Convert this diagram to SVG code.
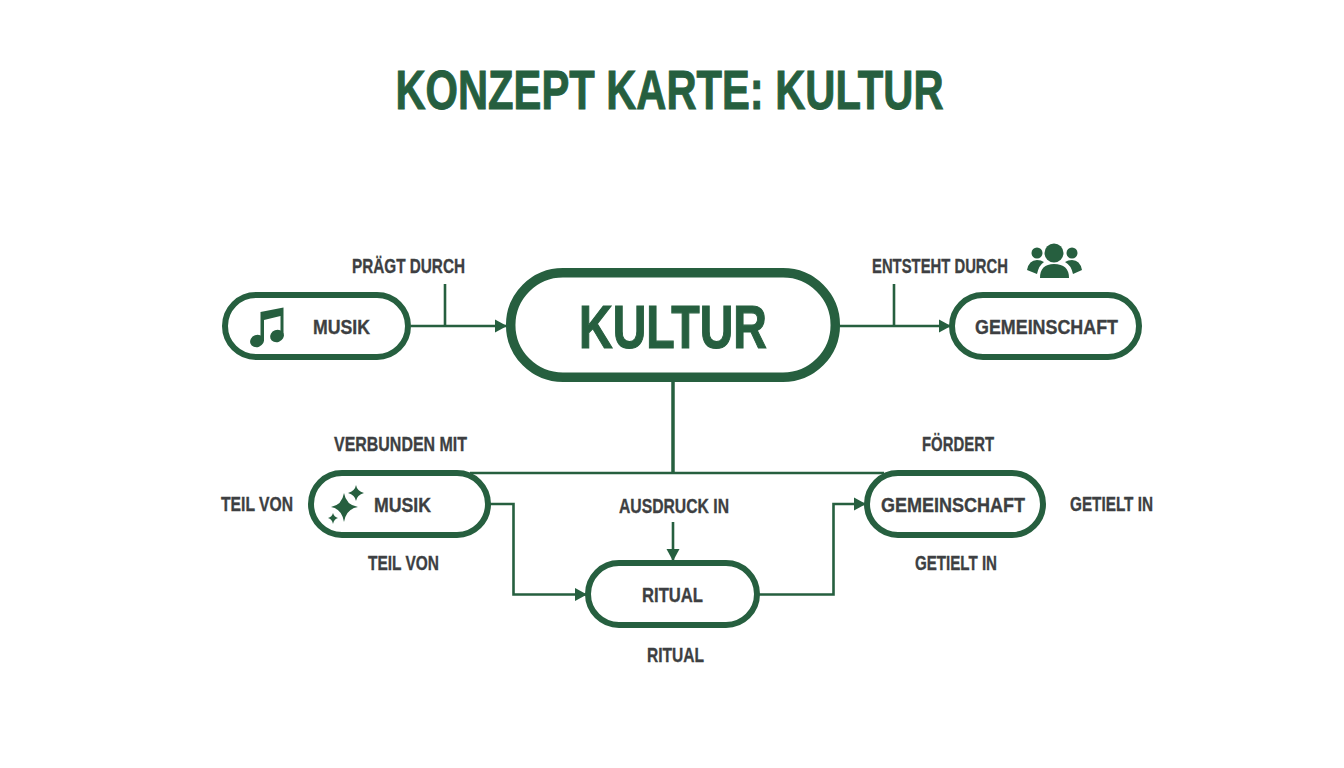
<svg xmlns="http://www.w3.org/2000/svg" width="1344" height="768" viewBox="0 0 1344 768">
<style>
.n{fill:#fff;stroke:#265f3f;stroke-width:6}
.c{fill:none;stroke:#265f3f;stroke-width:2.600}
.i{fill:#265f3f}
text{font-family:"Liberation Sans",Arial,sans-serif;font-weight:700;text-anchor:start}
.l{font-size:21px;fill:#3d3f42;stroke:#3d3f42;stroke-width:.35}
.g{fill:#265f3f;stroke:#265f3f}
</style>
<defs>
<marker id="a" markerUnits="userSpaceOnUse" markerWidth="14" markerHeight="16" refX="12" refY="8" orient="auto"><path d="M0 1.500L12 8L0 14.500Z" fill="#265f3f"/></marker>
</defs>
<rect width="1344" height="768" fill="#fff"/>
<text id="title" class="g" style="stroke-width:1" x="395.500" y="108.500" font-size="55" textLength="548" lengthAdjust="spacingAndGlyphs">KONZEPT KARTE: KULTUR</text>
<g id="connectors">
<path class="c" d="M411 326H507" marker-end="url(#a)"/>
<path class="c" d="M445 284V326"/>
<path class="c" d="M840 326H951" marker-end="url(#a)"/>
<path class="c" d="M894 284V326"/>
<path class="c" style="stroke-width:3.500" d="M673 380V473"/>
<path class="c" d="M470 473H884"/>
<path class="c" d="M490 504H513.500V594.500H587" marker-end="url(#a)"/>
<path class="c" d="M759 594.500H833.500V504H866" marker-end="url(#a)"/>
<path class="c" d="M673 522V561" marker-end="url(#a)"/>
</g>
<g id="node-musik">
<rect class="n" x="225" y="295" width="183" height="62" rx="31"/>
<g id="icon-music"><ellipse class="i" cx="257" cy="341" rx="7" ry="6" transform="rotate(-20 257 341)"/><ellipse class="i" cx="277" cy="336" rx="7" ry="6" transform="rotate(-20 277 336)"/><path class="i" d="M260.500 341L260.500 312L283.500 307.500L283.500 336L280.500 336L280.500 316L264 320L264 341Z"/></g>
<text class="l" x="313" y="334" textLength="57" lengthAdjust="spacingAndGlyphs">MUSIK</text>
</g>
<g id="node-kultur">
<rect class="n" style="stroke-width:9.500" x="510.700" y="272.700" width="324.600" height="104.600" rx="52.300"/>
<text class="g" style="stroke-width:1.200" x="579" y="348" font-size="62" textLength="188" lengthAdjust="spacingAndGlyphs">KULTUR</text>
</g>
<g id="node-gemeinschaft">
<rect class="n" x="952" y="295" width="187" height="62" rx="31"/>
<text class="l" x="975" y="334" textLength="143" lengthAdjust="spacingAndGlyphs">GEMEINSCHAFT</text>
</g>
<g id="node-musik-2">
<rect class="n" x="311" y="473" width="177" height="62" rx="31"/>
<path class="i" d="M344 493Q346 505 358 507Q346 509 344 522Q342 509 331 507Q342 505 344 493Z"/>
<path class="i" d="M356 485Q357 491 364 493Q357 495 356 501Q355 495 348 493Q355 491 356 485Z"/>
<path class="i" d="M333 513Q334 517 338 518Q334 519 333 524Q332 519 328 518Q332 517 333 513Z"/>
<text class="l" x="374" y="512" textLength="57" lengthAdjust="spacingAndGlyphs">MUSIK</text>
</g>
<g id="node-gemeinschaft-2">
<rect class="n" x="867" y="473" width="176" height="62" rx="31"/>
<text class="l" x="881" y="512" textLength="144" lengthAdjust="spacingAndGlyphs">GEMEINSCHAFT</text>
</g>
<g id="node-ritual">
<rect class="n" x="588" y="563" width="169" height="62" rx="31"/>
<text class="l" x="642" y="602" textLength="61" lengthAdjust="spacingAndGlyphs">RITUAL</text>
</g>
<g id="icon-people">
<circle class="i" cx="1037" cy="253" r="5.500"/><circle class="i" cx="1072" cy="253" r="5.500"/>
<path class="i" d="M1027 270Q1029 260 1037 260Q1041 260 1044 262Q1039 265 1037 274Z"/>
<path class="i" d="M1082 270Q1080 260 1072 260Q1068 260 1065 262Q1071 265 1073 274Z"/>
<circle class="i" cx="1054" cy="253" r="9.500"/>
<path class="i" d="M1040 278Q1040 264 1054 264Q1069 264 1069 278Z"/>
</g>
<g id="labels">
<text class="l" x="352" y="273" textLength="113" lengthAdjust="spacingAndGlyphs">PRÄGT DURCH</text>
<text class="l" x="872" y="273" textLength="136" lengthAdjust="spacingAndGlyphs">ENTSTEHT DURCH</text>
<text class="l" x="334" y="451" textLength="133" lengthAdjust="spacingAndGlyphs">VERBUNDEN MIT</text>
<text class="l" x="922" y="451" textLength="72" lengthAdjust="spacingAndGlyphs">FÖRDERT</text>
<text class="l" x="221" y="511" textLength="72" lengthAdjust="spacingAndGlyphs">TEIL VON</text>
<text class="l" x="1070" y="511" textLength="83" lengthAdjust="spacingAndGlyphs">GETIELT IN</text>
<text class="l" x="619" y="513" textLength="110" lengthAdjust="spacingAndGlyphs">AUSDRUCK IN</text>
<text class="l" x="368" y="570" textLength="71" lengthAdjust="spacingAndGlyphs">TEIL VON</text>
<text class="l" x="915" y="570" textLength="82" lengthAdjust="spacingAndGlyphs">GETIELT IN</text>
<text class="l" x="647" y="662" textLength="57" lengthAdjust="spacingAndGlyphs">RITUAL</text>
</g>
</svg>
